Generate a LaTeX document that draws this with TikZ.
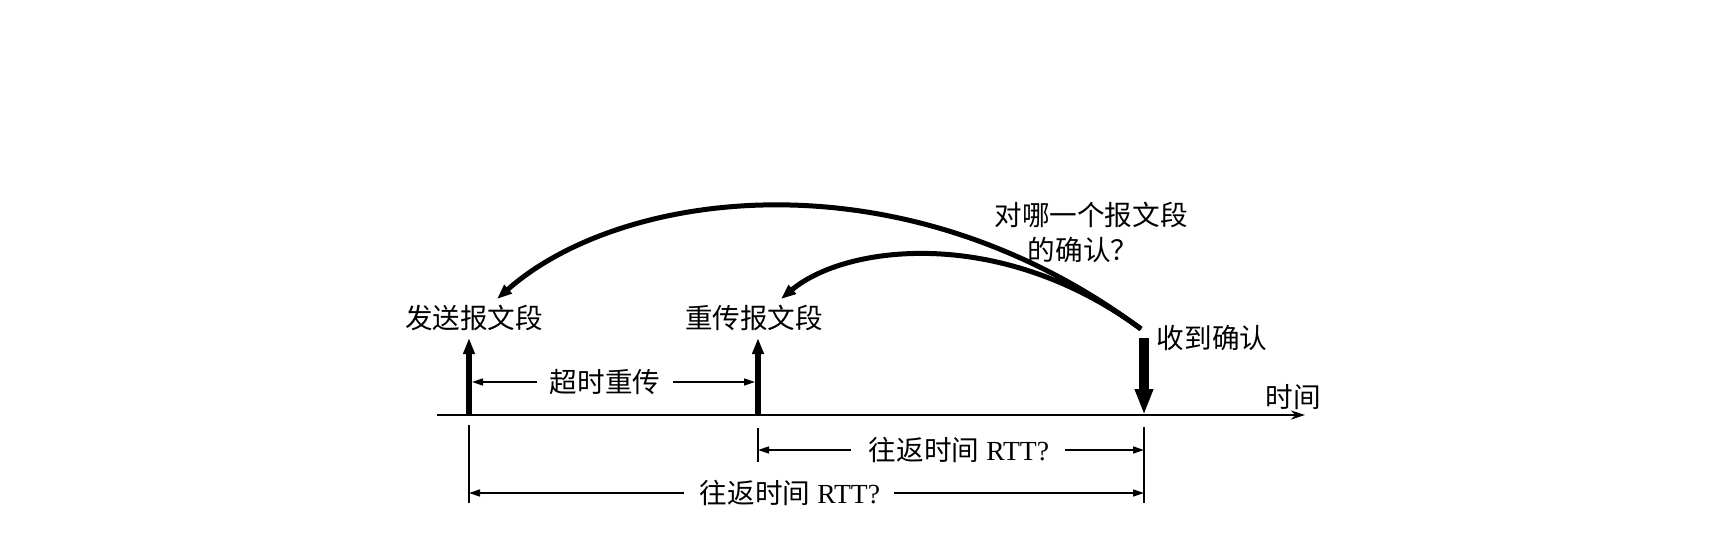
\documentclass[tikz,border=0pt]{standalone}
\usepackage{fontspec}
\setmainfont{Liberation Serif}
\newfontfamily\cjk{Noto Sans CJK SC}
\usetikzlibrary{arrows.meta}
\begin{document}
\begin{tikzpicture}[x=0.5pt,y=-0.5pt,
  lbl/.style={font=\fontsize{13.8}{16}\selectfont, inner sep=0pt},
  axis/.style={line width=1.3pt,-{Stealth[length=7pt,width=4.5pt]}},
  seg/.style={line width=2.9pt,-{Triangle[length=8pt,width=5.5pt]}},
  ackarr/.style={line width=4.6pt,-{Triangle[length=13pt,width=8.5pt]}},
  dim/.style={line width=0.75pt},
  dimarr/.style={line width=0.8pt,-{Triangle[length=5.5pt,width=3.5pt]}},
  curve/.style={line width=2.5pt,-{Triangle[length=7.5pt,width=5.5pt]}}
]
\useasboundingbox (0,0) rectangle (1714,546);
% axis
\coordinate (a0) at (437,415);
\coordinate (a1) at (1305,415);
\draw[axis] (a0) -- (a1);
\node[lbl] (time) at (1293,397) {\cjk 时间};
% segment arrows
\coordinate (s0) at (469,415); \coordinate (s1) at (469,338);
\coordinate (r0) at (758,415); \coordinate (r1) at (758,338);
\coordinate (k0) at (1144,338); \coordinate (k1) at (1144,415);
\draw[seg] (s0) -- (s1);
\draw[seg] (r0) -- (r1);
\draw[ackarr] (k0) -- (k1);
\node[lbl] (send) at (474,318) {\cjk 发送报文段};
\node[lbl] (resend) at (754,318) {\cjk 重传报文段};
\node[lbl] (ack) at (1212,338) {\cjk 收到确认};
\node[lbl] (q1) at (1091,215) {\cjk 对哪一个报文段};
\node[lbl] (q2) at (1083,250) {\cjk 的确认？};
% curves
\coordinate (c0) at (1141,329);
\coordinate (cs) at (497,299);
\coordinate (cr) at (781,299);
\draw[curve] (c0) .. controls (900,150) and (620,190) .. (cs);
\draw[curve] (c0) .. controls (1000,225) and (845,245) .. (cr);
% timeout
\node[lbl] (tt) at (605,382) {\cjk 超时重传};
\coordinate (tL) at (472,382);
\coordinate (tR) at (755,382);
\draw[dimarr] ([xshift=-6pt]tt.west) -- (tL);
\draw[dimarr] ([xshift=6pt]tt.east) -- (tR);
% dimension verticals
\coordinate (v1a) at (469,425); \coordinate (v1b) at (469,503);
\coordinate (v2a) at (758,428); \coordinate (v2b) at (758,462);
\coordinate (v3a) at (1144,427); \coordinate (v3b) at (1144,503);
\draw[dim] (v1a) -- (v1b);
\draw[dim] (v2a) -- (v2b);
\draw[dim] (v3a) -- (v3b);
% RTT 1
\node[lbl] (rtt1) at (959,450) {{\cjk 往返时间} RTT?};
\coordinate (p1L) at (758,450); \coordinate (p1R) at (1144,450);
\draw[dimarr] ([xshift=-9pt]rtt1.west) -- (p1L);
\draw[dimarr] ([xshift=8pt]rtt1.east) -- (p1R);
% RTT 2
\node[lbl] (rtt2) at (790,493) {{\cjk 往返时间} RTT?};
\coordinate (p2L) at (469,493); \coordinate (p2R) at (1144,493);
\draw[dimarr] ([xshift=-8pt]rtt2.west) -- (p2L);
\draw[dimarr] ([xshift=7pt]rtt2.east) -- (p2R);
\end{tikzpicture}
\end{document}
